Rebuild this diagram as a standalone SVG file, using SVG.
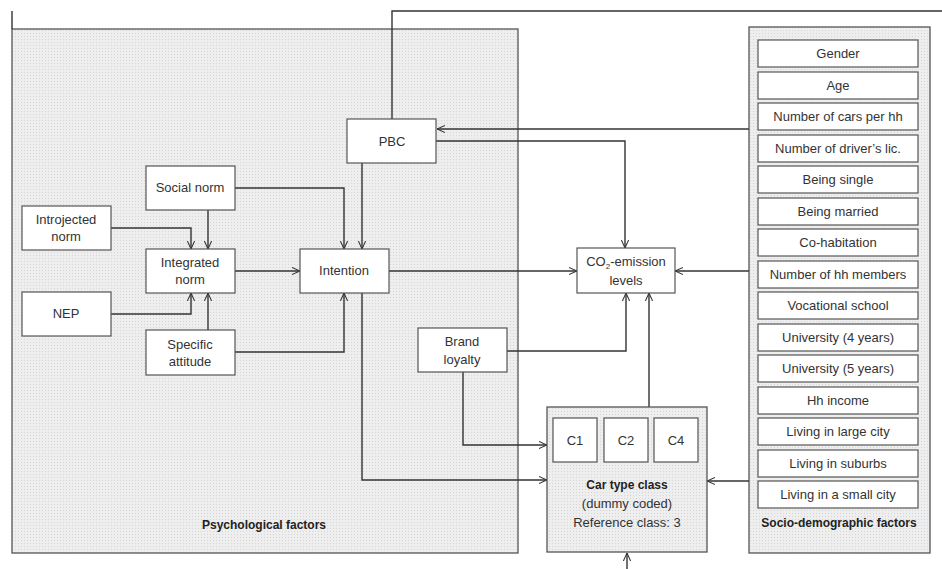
<svg xmlns="http://www.w3.org/2000/svg" width="942" height="569" viewBox="0 0 942 569">
<defs>
<pattern id="stip" width="3" height="3" patternUnits="userSpaceOnUse">
<rect width="3" height="3" fill="#eeeeee"/>
<rect width="1" height="1" fill="#d6d6d6"/>
</pattern>
<marker id="arr" viewBox="0 0 10 10" refX="10" refY="5" markerWidth="8" markerHeight="10" markerUnits="userSpaceOnUse" orient="auto">
<path d="M0,0.5 L10,5 L0,9.5" fill="none" stroke="#333" stroke-width="1.3"/>
</marker>
</defs>
<style>
.panel{fill:url(#stip);stroke:#555;stroke-width:1.3}
.box{fill:#fff;stroke:#555;stroke-width:1.2}
.t{font-family:"Liberation Sans",Arial,sans-serif;font-size:13px;fill:#333;text-anchor:middle}
.b{font-family:"Liberation Sans",Arial,sans-serif;font-size:12px;font-weight:bold;fill:#222;text-anchor:middle}
.c{fill:none;stroke:#333;stroke-width:1.4}
.a{marker-end:url(#arr)}
</style>
<rect width="942" height="569" fill="#fff"/>

<g id="psych-panel">
<rect class="panel" x="12" y="29" width="506" height="524"/>
<text class="b" x="264" y="529">Psychological factors</text>
</g>
<g id="socio-panel">
<rect class="panel" x="749" y="27" width="181" height="526"/>
<text class="b" x="839" y="527">Socio-demographic factors</text>
</g>

<g id="connectors">
<path class="c" d="M12,11 V29"/>
<path class="c" d="M392,119 V11 H942"/>
<path class="c a" d="M749,129 H437"/>
<path class="c a" d="M436,141 H625 V248"/>
<path class="c a" d="M208,210 V249"/>
<path class="c a" d="M111,228 H191 V249"/>
<path class="c a" d="M111,314 H191 V293"/>
<path class="c a" d="M208,330 V293"/>
<path class="c a" d="M235,188 H344 V249"/>
<path class="c a" d="M362,163 V249"/>
<path class="c a" d="M235,271 H300"/>
<path class="c a" d="M235,352 H344 V293"/>
<path class="c a" d="M389,271 H577"/>
<path class="c a" d="M749,271 H675"/>
<path class="c a" d="M362,293 V480 H547"/>
<path class="c a" d="M507,351 H626 V293"/>
<path class="c a" d="M649,407 V293"/>
<path class="c a" d="M463,372 V445 H547"/>
<path class="c a" d="M749,481 H707"/>
<path class="c a" d="M627,569 V553"/>
</g>

<g id="pbc"><rect class="box" x="347" y="119" width="89" height="44"/><text class="t" x="392" y="146">PBC</text></g>
<g id="social-norm"><rect class="box" x="146" y="166" width="89" height="44"/><text class="t" x="190" y="192">Social norm</text></g>
<g id="introjected-norm"><rect class="box" x="22" y="206" width="89" height="44"/><text class="t" x="66" y="224">Introjected</text><text class="t" x="66" y="241">norm</text></g>
<g id="integrated-norm"><rect class="box" x="146" y="249" width="89" height="44"/><text class="t" x="190" y="267">Integrated</text><text class="t" x="190" y="284">norm</text></g>
<g id="nep"><rect class="box" x="22" y="292" width="89" height="44"/><text class="t" x="66" y="318">NEP</text></g>
<g id="specific-attitude"><rect class="box" x="146" y="330" width="89" height="45"/><text class="t" x="190" y="349">Specific</text><text class="t" x="190" y="366">attitude</text></g>
<g id="intention"><rect class="box" x="300" y="249" width="89" height="44"/><text class="t" x="344" y="275">Intention</text></g>
<g id="brand-loyalty"><rect class="box" x="418" y="328" width="89" height="44"/><text class="t" x="462" y="346">Brand</text><text class="t" x="462" y="364">loyalty</text></g>
<g id="co2"><rect class="box" x="577" y="248" width="98" height="45"/><text class="t" x="626" y="266">CO<tspan font-size="8" dy="3">2</tspan><tspan dy="-3">-emission</tspan></text><text class="t" x="626" y="285">levels</text></g>

<g id="car-type-class">
<rect class="panel" x="547" y="407" width="160" height="145"/>
<rect class="box" x="553" y="418" width="44" height="44"/><text class="t" x="575" y="445">C1</text>
<rect class="box" x="604" y="418" width="44" height="44"/><text class="t" x="626" y="445">C2</text>
<rect class="box" x="654" y="418" width="44" height="44"/><text class="t" x="676" y="445">C4</text>
<text class="b" x="627" y="489">Car type class</text>
<text class="t" x="627" y="508">(dummy coded)</text>
<text class="t" x="627" y="527">Reference class: 3</text>
</g>

<g id="gender"><rect class="box" x="758" y="40" width="160" height="27"/><text class="t" x="838" y="58">Gender</text></g>
<g id="age"><rect class="box" x="758" y="72" width="160" height="27"/><text class="t" x="838" y="90">Age</text></g>
<g id="cars"><rect class="box" x="758" y="103" width="160" height="27"/><text class="t" x="838" y="121">Number of cars per hh</text></g>
<g id="lic"><rect class="box" x="758" y="135" width="160" height="27"/><text class="t" x="838" y="153">Number of driver’s lic.</text></g>
<g id="single"><rect class="box" x="758" y="166" width="160" height="27"/><text class="t" x="838" y="184">Being single</text></g>
<g id="married"><rect class="box" x="758" y="198" width="160" height="27"/><text class="t" x="838" y="216">Being married</text></g>
<g id="cohab"><rect class="box" x="758" y="229" width="160" height="27"/><text class="t" x="838" y="247">Co-habitation</text></g>
<g id="members"><rect class="box" x="758" y="261" width="160" height="27"/><text class="t" x="838" y="279">Number of hh members</text></g>
<g id="vocational"><rect class="box" x="758" y="292" width="160" height="27"/><text class="t" x="838" y="310">Vocational school</text></g>
<g id="uni4"><rect class="box" x="758" y="324" width="160" height="27"/><text class="t" x="838" y="342">University (4 years)</text></g>
<g id="uni5"><rect class="box" x="758" y="355" width="160" height="27"/><text class="t" x="838" y="373">University (5 years)</text></g>
<g id="income"><rect class="box" x="758" y="387" width="160" height="27"/><text class="t" x="838" y="405">Hh income</text></g>
<g id="large-city"><rect class="box" x="758" y="418" width="160" height="27"/><text class="t" x="838" y="436">Living in large city</text></g>
<g id="suburbs"><rect class="box" x="758" y="450" width="160" height="27"/><text class="t" x="838" y="468">Living in suburbs</text></g>
<g id="small-city"><rect class="box" x="758" y="481" width="160" height="27"/><text class="t" x="838" y="499">Living in a small city</text></g>
</svg>
